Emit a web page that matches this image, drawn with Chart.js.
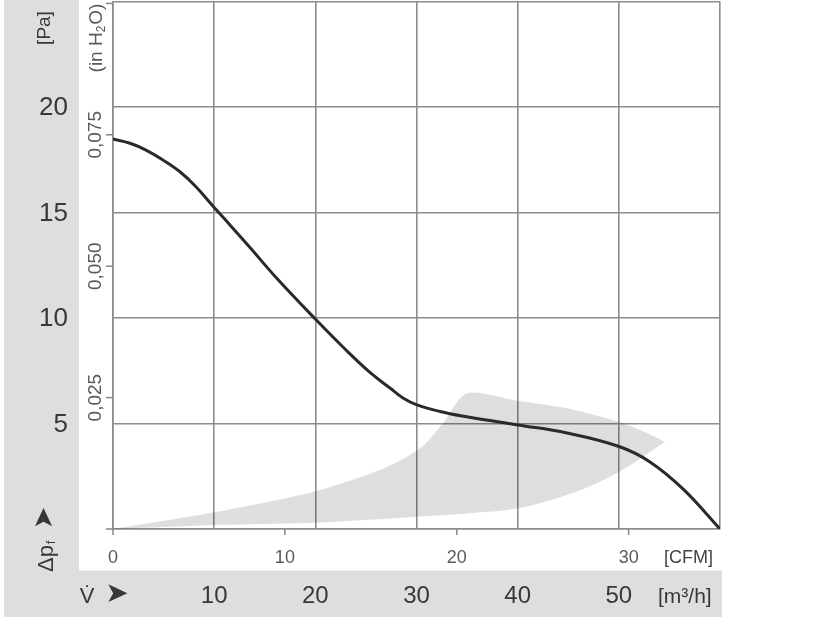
<!DOCTYPE html>
<html>
<head>
<meta charset="utf-8">
<script src="https://cdn.jsdelivr.net/npm/chart.js@4.4.1/dist/chart.umd.min.js"></script>
<style>
html,body{margin:0;padding:0;background:#fff;}
#wrap{width:816px;height:624px;position:relative;}
canvas{display:block;}
</style>
</head>
<body>
<div id="wrap"><canvas id="c" width="816" height="624"></canvas></div>
<script>
// ---- Data ----
// Fan curve: volume flow [m³/h] vs static pressure [Pa]
const flowM3h    = [0, 1.68, 3.26, 4.94, 6.62, 8.20, 10, 11.56, 13.54, 16.21, 20, 22.93, 25.40, 27.38, 28.66, 30.05, 32.32, 34.79, 37.26, 40.03, 44.88, 50.02, 53.08, 56.34, 60];
const pressurePa = [18.48, 18.28, 17.96, 17.49, 16.93, 16.22, 15.24, 14.41, 13.34, 11.87, 9.95, 8.53, 7.42, 6.68, 6.21, 5.88, 5.57, 5.33, 5.14, 4.93, 4.55, 3.91, 3.18, 1.90, 0];

// Grey operating range – upper and lower edges
const shadeUpperX = [0, 10, 19.87, 26.39, 29.36, 30.84, 32.62, 34.96, 39.90, 44.85, 49.95, 52.09, 54.56];
const shadeUpperY = [0, 0.79, 1.77, 2.80, 3.51, 4.03, 5.01, 6.43, 6.08, 5.72, 5.09, 4.69, 4.14];
const shadeLowerX = [0, 10, 19.87, 30.02, 34.96, 40.06, 44.85, 48.14, 51.40, 54.56];
const shadeLowerY = [0, 0.19, 0.30, 0.58, 0.74, 0.98, 1.61, 2.24, 3.11, 4.14];

// Tick labels
const paTicks      = [5, 10, 15, 20];
const m3hTicks     = [10, 20, 30, 40, 50];
const cfmTicks     = [0, 10, 20, 30];
const inH2OTicks   = [0.025, 0.050, 0.075, 0.100];
const inH2OLabels  = ['0,025', '0,050', '0,075', ''];

const PA_PER_INH2O = 249.089;
const M3H_PER_CFM  = 1.69901;

const toXY = (xs, ys) => xs.map((x, i) => ({x: x, y: ys[i]}));

const FONT = "'Liberation Sans', Arial, sans-serif";
const GRID = '#8c8c8c';
const BAND = '#dedede';

function rotText(ctx, txt, x, y, font, color, align, baseline) {
  ctx.save();
  ctx.translate(x, y);
  ctx.rotate(-Math.PI / 2);
  ctx.font = font;
  ctx.fillStyle = color;
  ctx.textAlign = align || 'center';
  ctx.textBaseline = baseline || 'middle';
  ctx.fillText(txt, 0, 0);
  ctx.restore();
}

const decor = {
  id: 'decor',
  beforeDraw(chart) {
    const ctx = chart.ctx;
    ctx.save();
    ctx.fillStyle = '#ffffff';
    ctx.fillRect(0, 0, chart.width, chart.height);
    ctx.fillStyle = BAND;
    ctx.fillRect(4, 0, 75, 571);
    ctx.fillRect(4, 570.5, 718, 46.5);
    ctx.restore();
  },
  afterDraw(chart) {
    const ctx = chart.ctx;
    const xs = chart.scales.x, ys = chart.scales.y;
    const a = chart.chartArea;
    ctx.save();
    ctx.strokeStyle = GRID;
    ctx.lineWidth = 1.6;
    // extension of bottom axis to the left
    ctx.beginPath();
    ctx.moveTo(a.left - 7, a.bottom);
    ctx.lineTo(a.left, a.bottom);
    ctx.stroke();
    // in H2O ticks
    inH2OTicks.forEach(v => {
      const y = ys.getPixelForValue(v * PA_PER_INH2O);
      ctx.beginPath();
      ctx.moveTo(a.left - 7, y);
      ctx.lineTo(a.left, y);
      ctx.stroke();
    });
    // CFM ticks
    cfmTicks.forEach(c => {
      const x = xs.getPixelForValue(c * M3H_PER_CFM);
      ctx.beginPath();
      ctx.moveTo(x, a.bottom);
      ctx.lineTo(x, a.bottom + 6);
      ctx.stroke();
    });

    // Pa labels
    ctx.fillStyle = '#383838';
    ctx.font = '26px ' + FONT;
    ctx.textAlign = 'right';
    ctx.textBaseline = 'middle';
    paTicks.forEach(p => {
      ctx.fillText(String(p), 68, ys.getPixelForValue(p) + 1);
    });
    rotText(ctx, '[Pa]', 45, 28, '19px ' + FONT, '#383838');

    // in H2O labels
    inH2OTicks.forEach((v, i) => {
      if (!inH2OLabels[i]) return;
      rotText(ctx, inH2OLabels[i], 96, ys.getPixelForValue(v * PA_PER_INH2O), '19px ' + FONT, '#5a5a5a');
    });
    // (in H2O) with subscript
    ctx.save();
    ctx.translate(102, 38);
    ctx.rotate(-Math.PI / 2);
    ctx.fillStyle = '#5a5a5a';
    ctx.textBaseline = 'alphabetic';
    ctx.textAlign = 'left';
    const big = '19px ' + FONT, small = '12px ' + FONT;
    ctx.font = big; const w1 = ctx.measureText('(in H').width; const w3 = ctx.measureText('O)').width;
    ctx.font = small; const w2 = ctx.measureText('2').width + 1;
    let sx = -(w1 + w2 + w3) / 2;
    ctx.font = big; ctx.fillText('(in H', sx, 0); sx += w1;
    ctx.font = small; ctx.fillText('2', sx, 3); sx += w2;
    ctx.font = big; ctx.fillText('O)', sx, 0);
    ctx.restore();

    // Δp_f ➤ (rotated)
    ctx.save();
    ctx.translate(53, 572);
    ctx.rotate(-Math.PI / 2);
    ctx.fillStyle = '#383838';
    ctx.textBaseline = 'alphabetic';
    ctx.textAlign = 'left';
    ctx.font = '22px ' + FONT;
    ctx.fillText('Δp', 0, 0);
    const wdp = ctx.measureText('Δp').width;
    ctx.font = '12px ' + FONT;
    ctx.fillText('f', wdp + 1, 2);
    ctx.font = "27px 'DejaVu Sans'";
    ctx.textBaseline = 'middle';
    ctx.textAlign = 'center';
    ctx.fillText('➤', 54, -8);
    ctx.restore();

    // CFM labels
    ctx.fillStyle = '#5a5a5a';
    ctx.font = '18px ' + FONT;
    ctx.textAlign = 'center';
    ctx.textBaseline = 'alphabetic';
    cfmTicks.forEach(c => {
      ctx.fillText(String(c), xs.getPixelForValue(c * M3H_PER_CFM), 563);
    });
    ctx.textAlign = 'left';
    ctx.fillStyle = '#444';
    ctx.fillText('[CFM]', 664, 563);

    // m3/h labels
    ctx.fillStyle = '#383838';
    ctx.font = '24px ' + FONT;
    ctx.textAlign = 'center';
    m3hTicks.forEach(m => {
      ctx.fillText(String(m), xs.getPixelForValue(m), 603);
    });
    ctx.textAlign = 'left';
    ctx.font = '21px ' + FONT;
    ctx.fillText('[m³/h]', 658, 603);

    // V̇ ➤
    ctx.font = '22px ' + FONT;
    ctx.textAlign = 'center';
    ctx.fillText('V\u0307', 87, 603);
    ctx.font = "28px 'DejaVu Sans'";
    ctx.textBaseline = 'middle';
    ctx.fillText('➤', 117, 595);
    ctx.restore();
  }
};

const axisCommon = {
  type: 'linear',
  ticks: { display: false },
  grid: { color: GRID, lineWidth: 1.6, drawTicks: false },
  border: { display: true, color: GRID, width: 1.6 }
};

new Chart(document.getElementById('c'), {
  type: 'scatter',
  data: {
    datasets: [
      {
        label: 'curve',
        data: toXY(flowM3h, pressurePa),
        showLine: true,
        borderColor: '#2a2a2a',
        borderWidth: 3,
        pointRadius: 0,
        tension: 0.4,
        fill: false
      },
      {
        label: 'rangeUpper',
        data: toXY(shadeUpperX, shadeUpperY),
        showLine: true,
        borderWidth: 0,
        borderColor: 'rgba(0,0,0,0)',
        backgroundColor: 'rgba(0,0,0,0.13)',
        pointRadius: 0,
        tension: 0.25,
        fill: '+1'
      },
      {
        label: 'rangeLower',
        data: toXY(shadeLowerX, shadeLowerY),
        showLine: true,
        borderWidth: 0,
        borderColor: 'rgba(0,0,0,0)',
        pointRadius: 0,
        cubicInterpolationMode: 'monotone',
        fill: false
      }
    ]
  },
  options: {
    responsive: false,
    animation: false,
    devicePixelRatio: 1,
    layout: { padding: { left: 113, right: 96, top: 1.5, bottom: 95 } },
    plugins: { legend: { display: false }, tooltip: { enabled: false } },
    scales: {
      x: Object.assign({}, axisCommon, {
        min: 0, max: 60,
        ticks: { display: false, stepSize: 10 },
        afterFit(s) { s.height = 0; }
      }),
      y: Object.assign({}, axisCommon, {
        min: 0, max: 25,
        ticks: { display: false, stepSize: 5 },
        afterFit(s) { s.width = 0; }
      })
    }
  },
  plugins: [decor]
});
</script>
</body>
</html>
